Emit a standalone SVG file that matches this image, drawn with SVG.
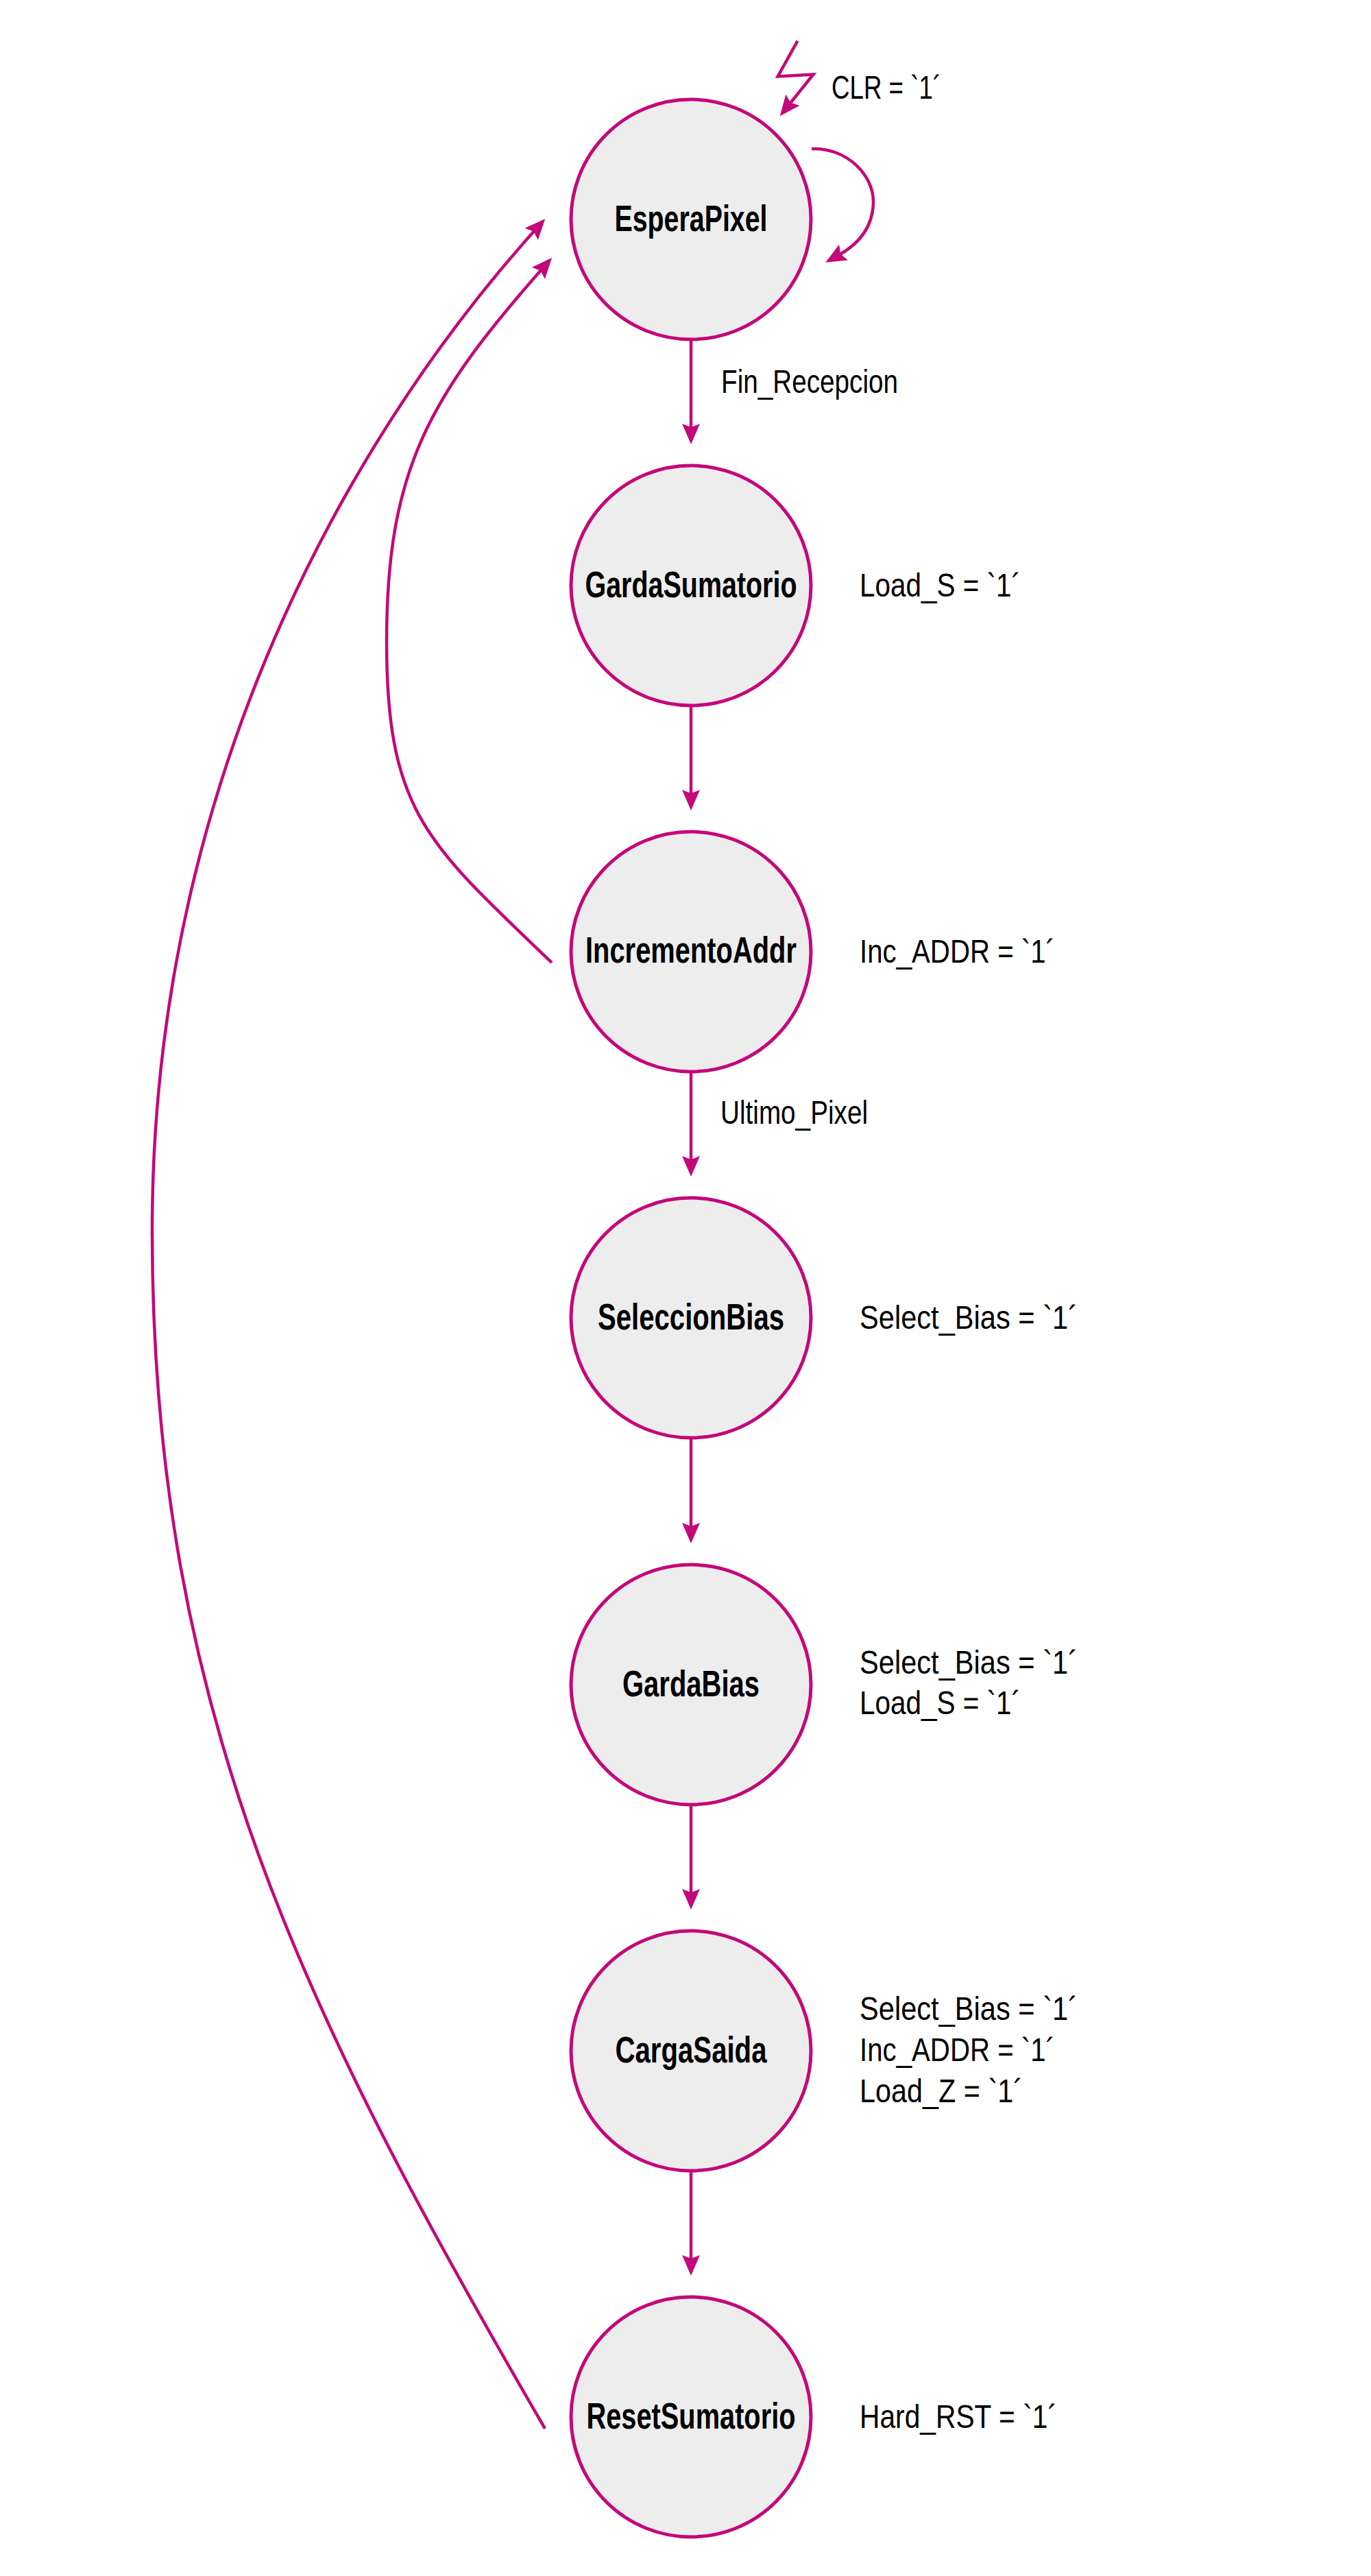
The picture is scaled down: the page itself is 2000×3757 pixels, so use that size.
<svg xmlns="http://www.w3.org/2000/svg" width="2000" height="3757" viewBox="0 0 2000 3757">
<style>
.st{fill:#EDEDED;stroke:#C4087A;stroke-width:5}
.cn{fill:none;stroke:#C4087A;stroke-width:4.5;marker-end:url(#ah)}
.nl{font-family:"Liberation Sans",Arial,sans-serif;font-weight:bold;font-size:54px;fill:#000;text-anchor:middle}
.lb{font-family:"Liberation Sans",Arial,sans-serif;font-size:48px;fill:#000}
</style>
<defs>
<marker id="ah" markerUnits="userSpaceOnUse" viewBox="0 0 30 26" markerWidth="30" markerHeight="26" refX="8" refY="13" orient="auto">
<path d="M30,13 L0,0 L5,13 L0,26 Z" fill="#C4087A"/>
</marker>
</defs>
<rect width="2000" height="3757" fill="#fff"/>
<g id="connectors">
<polyline class="cn" points="1163.5,59.6 1134.6,111.5 1186.5,108.5 1151.5,152.1"/>
<path class="cn" d="M1184,217 C1235,215 1275,255 1274,296 C1273,332 1252,356 1223.5,372"/>
<line class="cn" x1="1008" y1="495" x2="1008" y2="626"/>
<line class="cn" x1="1008" y1="1029" x2="1008" y2="1160"/>
<line class="cn" x1="1008" y1="1563" x2="1008" y2="1694"/>
<line class="cn" x1="1008" y1="2098" x2="1008" y2="2229"/>
<line class="cn" x1="1008" y1="2632" x2="1008" y2="2763"/>
<line class="cn" x1="1008" y1="3166" x2="1008" y2="3297"/>
<path class="cn" d="M805,1404 C625,1231.5 564,1186 564,936 C564,686 625.5,580 790.5,392.5"/>
<path class="cn" d="M795,3542 C445,2940 222,2495 222,1795 C222,1100 545.5,596.5 780.5,335.5"/>
<text class="lb" x="1213" y="144" textLength="160" lengthAdjust="spacingAndGlyphs">CLR = `1´</text>
<text class="lb" x="1052" y="573" textLength="258" lengthAdjust="spacingAndGlyphs">Fin_Recepcion</text>
<text class="lb" x="1051" y="1639" textLength="215" lengthAdjust="spacingAndGlyphs">Ultimo_Pixel</text>
</g>
<g id="EsperaPixel">
<circle class="st" cx="1008" cy="320" r="175"/>
<text class="nl" x="1008" y="337" textLength="223" lengthAdjust="spacingAndGlyphs">EsperaPixel</text>
</g>
<g id="GardaSumatorio">
<circle class="st" cx="1008" cy="854" r="175"/>
<text class="nl" x="1008" y="871" textLength="309" lengthAdjust="spacingAndGlyphs">GardaSumatorio</text>
<text class="lb" x="1254" y="870" textLength="235" lengthAdjust="spacingAndGlyphs">Load_S = `1´</text>
</g>
<g id="IncrementoAddr">
<circle class="st" cx="1008" cy="1388" r="175"/>
<text class="nl" x="1008" y="1404" textLength="308" lengthAdjust="spacingAndGlyphs">IncrementoAddr</text>
<text class="lb" x="1254" y="1404" textLength="285" lengthAdjust="spacingAndGlyphs">Inc_ADDR = `1´</text>
</g>
<g id="SeleccionBias">
<circle class="st" cx="1008" cy="1922" r="175"/>
<text class="nl" x="1008" y="1939" textLength="272" lengthAdjust="spacingAndGlyphs">SeleccionBias</text>
<text class="lb" x="1254" y="1938" textLength="318" lengthAdjust="spacingAndGlyphs">Select_Bias = `1´</text>
</g>
<g id="GardaBias">
<circle class="st" cx="1008" cy="2457" r="175"/>
<text class="nl" x="1008" y="2474" textLength="200" lengthAdjust="spacingAndGlyphs">GardaBias</text>
<text class="lb" x="1254" y="2441" textLength="318" lengthAdjust="spacingAndGlyphs">Select_Bias = `1´</text>
<text class="lb" x="1254" y="2500" textLength="235" lengthAdjust="spacingAndGlyphs">Load_S = `1´</text>
</g>
<g id="CargaSaida">
<circle class="st" cx="1008" cy="2991" r="175"/>
<text class="nl" x="1008" y="3008" textLength="221" lengthAdjust="spacingAndGlyphs">CargaSaida</text>
<text class="lb" x="1254" y="2946" textLength="318" lengthAdjust="spacingAndGlyphs">Select_Bias = `1´</text>
<text class="lb" x="1254" y="3006" textLength="285" lengthAdjust="spacingAndGlyphs">Inc_ADDR = `1´</text>
<text class="lb" x="1254" y="3066" textLength="238" lengthAdjust="spacingAndGlyphs">Load_Z = `1´</text>
</g>
<g id="ResetSumatorio">
<circle class="st" cx="1008" cy="3525" r="175"/>
<text class="nl" x="1008" y="3542" textLength="305" lengthAdjust="spacingAndGlyphs">ResetSumatorio</text>
<text class="lb" x="1254" y="3541" textLength="288" lengthAdjust="spacingAndGlyphs">Hard_RST = `1´</text>
</g>
</svg>
